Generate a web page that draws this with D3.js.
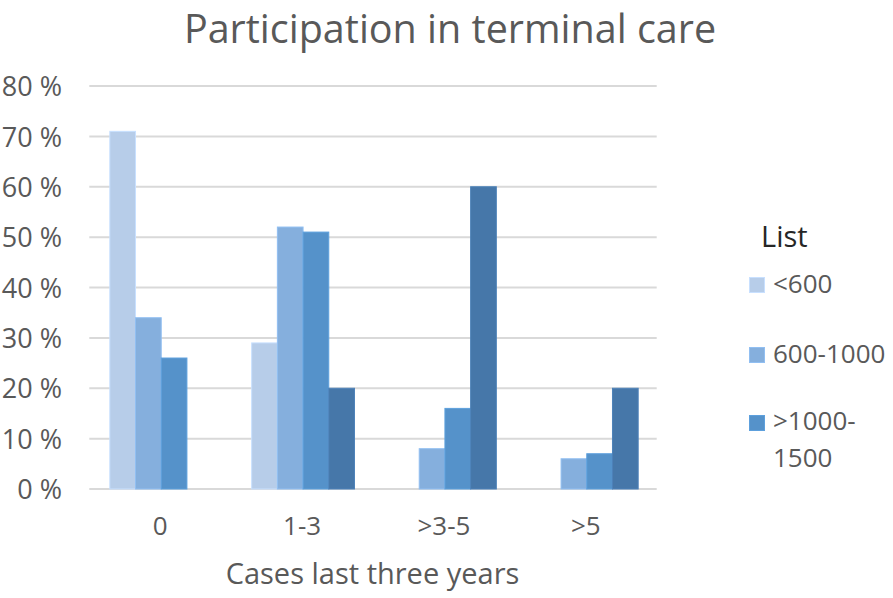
<!DOCTYPE html>
<html><head><meta charset="utf-8">
<script src="https://cdn.jsdelivr.net/npm/d3@7"></script>
<style>body{margin:0;background:#fff}svg{display:block}text{font-family:"Open Sans",sans-serif}</style>
</head><body><svg id="c" width="893" height="598"></svg>
<script>
const categories = ["0", "1-3", ">3-5", ">5"];
const seriesNames = ["<600", "600-1000", ">1000-1500", ">1500"];
const legendNames = ["<600", "600-1000", ">1000-1500"];
const s1 = [0.71, 0.29, 0, 0];
const s2 = [0.34, 0.52, 0.08, 0.06];
const s3 = [0.26, 0.51, 0.16, 0.07];
const s4 = [0, 0.20, 0.60, 0.20];
const yTicks = [0, 0.1, 0.2, 0.3, 0.4, 0.5, 0.6, 0.7, 0.8];
const colors = ["#b7cde9", "#85afdd", "#5592ca", "#4677a9"];

const seriesVals = [s1, s2, s3, s4];
const svg = d3.select("#c");
const L = 89.3, R = 656.7, T = 86, B = 489;
const x0 = d3.scaleBand().domain(categories).range([L, R]).padding(0);
const gap = x0.bandwidth() - 4 * 25.7;
const x1 = d3.scaleBand().domain(seriesNames).range([gap / 2 + 1, x0.bandwidth() - gap / 2 + 1]).padding(0);
const y = d3.scaleLinear().domain([0, 0.8]).range([B, T]);

// gridlines
svg.append("g").selectAll("line").data(yTicks).join("line")
  .attr("x1", L).attr("x2", R)
  .attr("y1", d => y(d)).attr("y2", d => y(d))
  .attr("stroke", "#d9d9d9").attr("stroke-width", 2);

// y labels
const yAxis = d3.axisLeft(y).tickValues(yTicks).tickSize(0).tickPadding(0)
  .tickFormat(d => Math.round(d * 100) + " %");
const ya = svg.append("g").attr("transform", `translate(62,0)`).call(yAxis);
ya.select(".domain").remove();
ya.selectAll("text").attr("font-size", 27).attr("fill", "#595959").attr("font-family", "Open Sans").attr("dy", "0.36em");

// bars
const g = svg.append("g");
seriesVals.forEach((vals, si) => {
  g.append("g").selectAll("rect").data(vals.map((v, ci) => ({c: categories[ci], v})).filter(d => d.v > 0)).join("rect")
    .attr("x", d => x0(d.c) + x1(seriesNames[si]))
    .attr("width", x1.bandwidth())
    .attr("y", d => y(d.v))
    .attr("height", d => y(0) - y(d.v))
    .attr("fill", colors[si])
    .attr("stroke", d3.color(colors[si]).brighter(0.25))
    .attr("stroke-width", 1);
});

// x labels
const xAxis = d3.axisBottom(x0).tickSize(0).tickPadding(0);
const xa = svg.append("g").attr("transform", `translate(0,535)`).call(xAxis);
xa.select(".domain").remove();
xa.selectAll("text").attr("font-size", 26).attr("fill", "#595959").attr("font-family", "Open Sans").attr("dy", "0");

// titles
svg.append("text").attr("x", 450).attr("y", 42.5).attr("text-anchor", "middle")
  .attr("font-size", 39.5).attr("fill", "#595959").text("Participation in terminal care");
svg.append("text").attr("x", 372.5).attr("y", 584).attr("text-anchor", "middle")
  .attr("font-size", 29).attr("fill", "#595959").text("Cases last three years");

// legend
svg.append("text").attr("x", 761).attr("y", 247).attr("font-size", 29).attr("fill", "#262626").text("List");
const legY = [285, 355, 423];
const legBase = [293, 363, 430];
legendNames.forEach((n, i) => {
  svg.append("rect").attr("x", 749.5).attr("y", legY[i] - 7.5).attr("width", 15).attr("height", 15)
    .attr("fill", colors[i]).attr("stroke", d3.color(colors[i]).brighter(0.25));
  const t = svg.append("text").attr("x", 773).attr("y", legBase[i]).attr("font-size", 26).attr("fill", "#595959");
  if (n === ">1000-1500") {
    t.append("tspan").attr("x", 773).text(">1000-");
    t.append("tspan").attr("x", 773).attr("dy", 37).text("1500");
  } else t.text(n);
});
</script></body></html>
